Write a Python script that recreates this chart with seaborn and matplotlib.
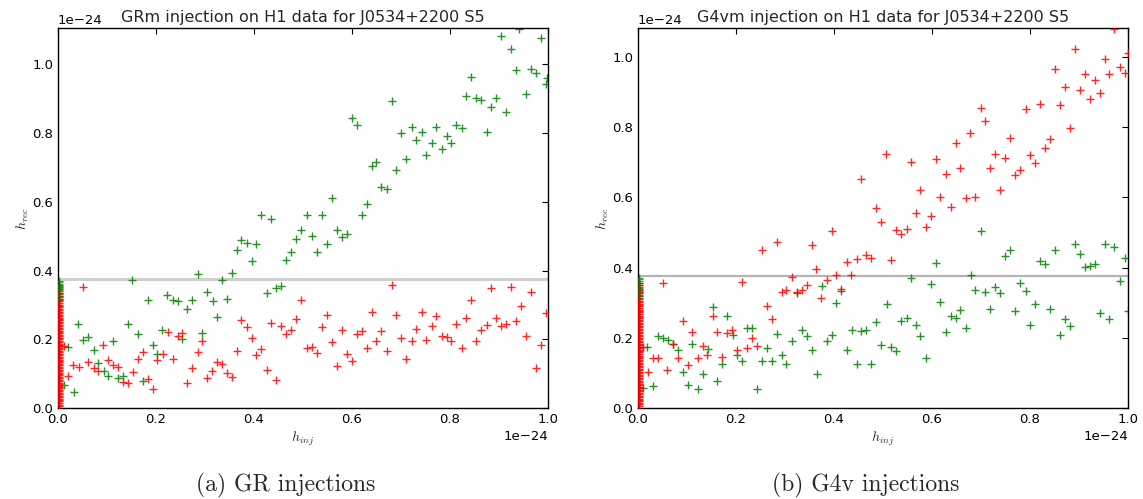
import numpy as np
import pandas as pd
import matplotlib
matplotlib.use("Agg")
import matplotlib.pyplot as plt
import seaborn as sns

# ---------------- data (units of 1e-24) ----------------
SCALE = 1e-24

# Left panel: GRm injections
gr_green_x = [0.152, 0.285, 0.355, 0.334, 0.415, 0.435, 0.365, 0.374, 0.385, 0.404, 0.396, 0.476,
              0.466, 0.486, 0.495, 0.222, 0.234, 0.244, 0.183, 0.263, 0.273, 0.304, 0.316, 0.345,
              0.324, 0.426, 0.445, 0.456, 0.041, 0.142, 0.061, 0.051, 0.020, 0.073, 0.113, 0.163,
              0.212, 0.253, 0.294, 0.193, 0.203, 0.081, 0.093, 0.102, 0.122, 0.132, 0.173, 0.012,
              0.033,
              0.509, 0.539, 0.519, 0.529, 0.550, 0.560, 0.570, 0.580, 0.590, 0.601, 0.610, 0.620,
              0.631, 0.640, 0.650, 0.659, 0.671, 0.681, 0.690, 0.700, 0.711, 0.722, 0.731, 0.743,
              0.752, 0.763, 0.772, 0.783, 0.793, 0.803, 0.812, 0.824, 0.833, 0.843, 0.854, 0.864,
              0.875, 0.884, 0.894, 0.905, 0.915, 0.924, 0.935, 0.941, 0.955, 0.965, 0.975, 0.986,
              0.996, 0.999]
gr_green_y = [0.372, 0.390, 0.392, 0.372, 0.561, 0.549, 0.460, 0.490, 0.481, 0.478, 0.428, 0.453,
              0.432, 0.492, 0.517, 0.330, 0.315, 0.310, 0.315, 0.288, 0.313, 0.339, 0.312, 0.318,
              0.265, 0.335, 0.350, 0.355, 0.245, 0.245, 0.207, 0.199, 0.178, 0.168, 0.194, 0.214,
              0.228, 0.202, 0.217, 0.182, 0.158, 0.131, 0.107, 0.092, 0.087, 0.092, 0.078, 0.068,
              0.046,
              0.563, 0.563, 0.501, 0.454, 0.478, 0.612, 0.517, 0.499, 0.505, 0.843, 0.825, 0.563,
              0.595, 0.704, 0.716, 0.644, 0.638, 0.893, 0.692, 0.801, 0.725, 0.819, 0.779, 0.803,
              0.736, 0.772, 0.818, 0.754, 0.791, 0.771, 0.825, 0.815, 0.909, 0.963, 0.903, 0.897,
              0.803, 0.875, 0.903, 1.084, 0.861, 1.046, 0.985, 1.103, 0.915, 0.988, 0.974, 1.076,
              0.942, 0.961]
gr_red_x = [0.051, 0.012, 0.031, 0.042, 0.020, 0.061, 0.073, 0.081, 0.092, 0.102, 0.113, 0.122,
            0.132, 0.142, 0.154, 0.163, 0.173, 0.183, 0.193, 0.203, 0.214, 0.224, 0.234, 0.244,
            0.254, 0.263, 0.273, 0.285, 0.294, 0.304, 0.315, 0.324, 0.334, 0.345, 0.356, 0.365,
            0.374, 0.385, 0.395, 0.404, 0.415, 0.426, 0.435, 0.446, 0.456, 0.466, 0.476, 0.486,
            0.496,
            0.509, 0.519, 0.529, 0.539, 0.550, 0.560, 0.570, 0.580, 0.590, 0.601, 0.610, 0.620,
            0.631, 0.640, 0.650, 0.659, 0.671, 0.681, 0.690, 0.700, 0.711, 0.722, 0.731, 0.743,
            0.752, 0.763, 0.772, 0.783, 0.793, 0.803, 0.812, 0.824, 0.833, 0.843, 0.854, 0.864,
            0.875, 0.884, 0.894, 0.905, 0.915, 0.924, 0.935, 0.944, 0.955, 0.965, 0.975, 0.986,
            0.996]
gr_red_y = [0.352, 0.179, 0.124, 0.120, 0.092, 0.133, 0.117, 0.109, 0.183, 0.141, 0.124, 0.118,
            0.076, 0.073, 0.105, 0.144, 0.163, 0.083, 0.055, 0.141, 0.157, 0.221, 0.144, 0.209,
            0.218, 0.073, 0.117, 0.163, 0.196, 0.086, 0.107, 0.133, 0.128, 0.102, 0.089, 0.165,
            0.257, 0.235, 0.204, 0.155, 0.172, 0.112, 0.247, 0.080, 0.238, 0.216, 0.228, 0.260,
            0.313,
            0.175, 0.177, 0.161, 0.235, 0.272, 0.191, 0.121, 0.226, 0.158, 0.138, 0.214, 0.223,
            0.175, 0.280, 0.196, 0.225, 0.167, 0.357, 0.272, 0.204, 0.144, 0.196, 0.230, 0.279,
            0.199, 0.238, 0.268, 0.209, 0.208, 0.196, 0.243, 0.175, 0.262, 0.313, 0.194, 0.227,
            0.241, 0.348, 0.262, 0.238, 0.244, 0.353, 0.252, 0.296, 0.210, 0.338, 0.115, 0.182,
            0.277]

# Right panel: G4vm injections
g4_red_x = [0.050, 0.212, 0.011, 0.020, 0.030, 0.041, 0.059, 0.071, 0.081, 0.091, 0.101, 0.111,
            0.122, 0.132, 0.141, 0.152, 0.162, 0.171, 0.182, 0.192, 0.203, 0.222, 0.233, 0.243,
            0.253, 0.263, 0.273, 0.283, 0.293, 0.303, 0.314, 0.324, 0.334, 0.344, 0.355, 0.364,
            0.374, 0.385, 0.395, 0.405, 0.415, 0.426, 0.435, 0.446, 0.456, 0.465, 0.476, 0.486,
            0.495,
            0.507, 0.517, 0.527, 0.537, 0.548, 0.557, 0.567, 0.576, 0.588, 0.598, 0.608, 0.617,
            0.628, 0.639, 0.648, 0.658, 0.669, 0.678, 0.688, 0.699, 0.709, 0.719, 0.729, 0.739,
            0.749, 0.760, 0.769, 0.780, 0.791, 0.800, 0.811, 0.821, 0.831, 0.841, 0.851, 0.862,
            0.872, 0.881, 0.892, 0.902, 0.913, 0.922, 0.932, 0.943, 0.953, 0.962, 0.972, 0.984,
            0.994, 0.999]
g4_red_y = [0.355, 0.359, 0.175, 0.103, 0.143, 0.143, 0.109, 0.183, 0.143, 0.249, 0.122, 0.215,
            0.141, 0.176, 0.152, 0.261, 0.215, 0.144, 0.214, 0.221, 0.166, 0.171, 0.200, 0.176,
            0.449, 0.290, 0.252, 0.474, 0.331, 0.336, 0.373, 0.330, 0.337, 0.350, 0.463, 0.396,
            0.314, 0.365, 0.504, 0.380, 0.339, 0.417, 0.378, 0.424, 0.653, 0.435, 0.426, 0.569,
            0.529,
            0.722, 0.420, 0.508, 0.494, 0.510, 0.699, 0.554, 0.620, 0.515, 0.547, 0.710, 0.601,
            0.665, 0.571, 0.755, 0.683, 0.597, 0.784, 0.601, 0.853, 0.817, 0.683, 0.722, 0.622,
            0.711, 0.770, 0.664, 0.679, 0.850, 0.721, 0.698, 0.865, 0.741, 0.767, 0.965, 0.862,
            0.914, 0.796, 1.022, 0.905, 0.952, 0.879, 0.934, 0.896, 0.993, 0.950, 1.080, 0.970,
            0.955, 1.010]
g4_green_x = [0.010, 0.031, 0.018, 0.041, 0.050, 0.061, 0.071, 0.081, 0.091, 0.101, 0.111, 0.122,
              0.132, 0.142, 0.152, 0.162, 0.172, 0.182, 0.193, 0.203, 0.212, 0.222, 0.233, 0.243,
              0.253, 0.263, 0.273, 0.283, 0.293, 0.303, 0.314, 0.324, 0.334, 0.344, 0.355, 0.365,
              0.375, 0.386, 0.396, 0.405, 0.415, 0.427, 0.436, 0.446, 0.456, 0.466, 0.476, 0.486,
              0.495,
              0.508, 0.517, 0.527, 0.537, 0.548, 0.557, 0.567, 0.576, 0.588, 0.598, 0.608, 0.617,
              0.628, 0.639, 0.648, 0.658, 0.669, 0.679, 0.688, 0.699, 0.709, 0.719, 0.729, 0.739,
              0.749, 0.760, 0.769, 0.780, 0.791, 0.800, 0.811, 0.821, 0.831, 0.841, 0.851, 0.862,
              0.872, 0.881, 0.892, 0.902, 0.913, 0.922, 0.932, 0.943, 0.953, 0.962, 0.972, 0.984,
              0.994, 0.999]
g4_green_y = [0.057, 0.062, 0.175, 0.204, 0.200, 0.195, 0.183, 0.166, 0.103, 0.065, 0.181, 0.055,
              0.098, 0.169, 0.287, 0.078, 0.125, 0.261, 0.207, 0.152, 0.135, 0.228, 0.228, 0.055,
              0.133, 0.171, 0.133, 0.211, 0.150, 0.124, 0.190, 0.328, 0.223, 0.204, 0.164, 0.097,
              0.347, 0.192, 0.209, 0.298, 0.333, 0.164, 0.222, 0.125, 0.219, 0.223, 0.125, 0.245,
              0.179,
              0.295, 0.173, 0.163, 0.249, 0.255, 0.369, 0.235, 0.204, 0.143, 0.352, 0.412, 0.301,
              0.217, 0.261, 0.255, 0.278, 0.228, 0.378, 0.337, 0.504, 0.330, 0.282, 0.345, 0.328,
              0.434, 0.449, 0.276, 0.355, 0.333, 0.235, 0.295, 0.418, 0.410, 0.281, 0.449, 0.209,
              0.252, 0.233, 0.466, 0.439, 0.402, 0.405, 0.409, 0.271, 0.466, 0.252, 0.458, 0.363,
              0.426, 0.276]

# near-zero injections (recovered values stacked at h_inj ~ 0)
zero_inj = 0.003
zero_red_y = [0.006, 0.010, 0.014, 0.019, 0.023, 0.027, 0.031, 0.035, 0.040, 0.044, 0.048, 0.052,
              0.057, 0.061, 0.065, 0.069, 0.073, 0.078, 0.082, 0.086, 0.090, 0.095, 0.099, 0.103,
              0.107, 0.111, 0.116, 0.120, 0.124, 0.128, 0.133, 0.137, 0.141, 0.145, 0.149, 0.154,
              0.158, 0.162, 0.166, 0.171, 0.175, 0.179, 0.183, 0.187, 0.192, 0.196, 0.200, 0.204,
              0.209, 0.213, 0.217, 0.221, 0.225, 0.230, 0.234, 0.238, 0.242, 0.247, 0.251, 0.255,
              0.259, 0.263, 0.268, 0.272, 0.276, 0.280, 0.285, 0.289, 0.293, 0.297, 0.301, 0.306,
              0.310, 0.314, 0.318, 0.323, 0.327, 0.331, 0.335, 0.340, 0.345, 0.351, 0.357]
zero_green_y = [0.318, 0.326, 0.334, 0.342, 0.350, 0.356, 0.362, 0.367, 0.371]

threshold = 0.376
titles = ["GRm injection on H1 data for J0534+2200 S5",
          "G4vm injection on H1 data for J0534+2200 S5"]
captions = ["(a) GR injections", "(b) G4v injections"]
ytops = [1.106, 1.082]
xticks = [0.0, 0.2, 0.4, 0.6, 0.8, 1.0]
yticks = [0.0, 0.2, 0.4, 0.6, 0.8, 1.0]

# ---------------- style ----------------
sns.set_style("white")
plt.rcParams.update({
    "font.family": ["DejaVu Sans"],
    "xtick.direction": "in", "ytick.direction": "in",
    "xtick.top": True, "ytick.right": True,
    "xtick.major.size": 4, "ytick.major.size": 4,
    "xtick.labelsize": 9.5, "ytick.labelsize": 9.5,
    "axes.edgecolor": "black", "axes.linewidth": 1.0,
    "xtick.color": "black", "ytick.color": "black",
    "mathtext.fontset": "cm",
})

fig = plt.figure(figsize=(11.43, 4.99), dpi=100)
axes = [fig.add_axes([0.0507, 0.1824, 0.4287, 0.7615]),
        fig.add_axes([0.5582, 0.1824, 0.4287, 0.7615])]

panels = [
    (gr_green_x, gr_green_y, gr_red_x, gr_red_y),
    (g4_green_x, g4_green_y, g4_red_x, g4_red_y),
]
line_styles = [dict(color="#cfcfcf", lw=2.2), dict(color="#b4b4b4", lw=1.6)]

for i, (ax, (gx, gy, rx, ry)) in enumerate(zip(axes, panels)):
    gdf = pd.DataFrame({"x": np.array(gx) * SCALE, "y": np.array(gy) * SCALE})
    rdf = pd.DataFrame({"x": np.r_[np.full(len(zero_red_y), zero_inj), rx] * SCALE,
                        "y": np.r_[zero_red_y, ry] * SCALE})
    zdf = pd.DataFrame({"x": np.full(len(zero_green_y), zero_inj) * SCALE,
                        "y": np.array(zero_green_y) * SCALE})
    ax.axhline(threshold * SCALE, zorder=1, **line_styles[i])
    sns.scatterplot(data=gdf, x="x", y="y", ax=ax, marker="+", color="#008000",
                    s=40, linewidth=1.0, alpha=0.85, zorder=2)
    sns.scatterplot(data=rdf, x="x", y="y", ax=ax, marker="+", color="#ff0000",
                    s=40, linewidth=1.0, alpha=0.85, zorder=3)
    sns.scatterplot(data=zdf, x="x", y="y", ax=ax, marker="+", color="#008000",
                    s=40, linewidth=1.0, alpha=0.7, zorder=4)
    ax.set_xlim(0, 1.0 * SCALE)
    ax.set_ylim(0, ytops[i] * SCALE)
    ax.set_xticks(np.array(xticks) * SCALE)
    ax.set_yticks(np.array(yticks) * SCALE)
    ax.set_title(titles[i], fontsize=11.5, pad=4)
    ax.set_xlabel(r"$h_{inj}$", fontsize=10, labelpad=3)
    ax.set_ylabel(r"$h_{rec}$", fontsize=10, labelpad=1)
    for sp in ax.spines.values():
        sp.set_visible(True)
        sp.set_color("black")

fig.text(0.250, 0.028, captions[0], fontsize=17, family="cmr10", ha="center", va="center")
fig.text(0.757, 0.028, captions[1], fontsize=17, family="cmr10", ha="center", va="center")

fig.savefig("out.png", dpi=100, facecolor="white")
